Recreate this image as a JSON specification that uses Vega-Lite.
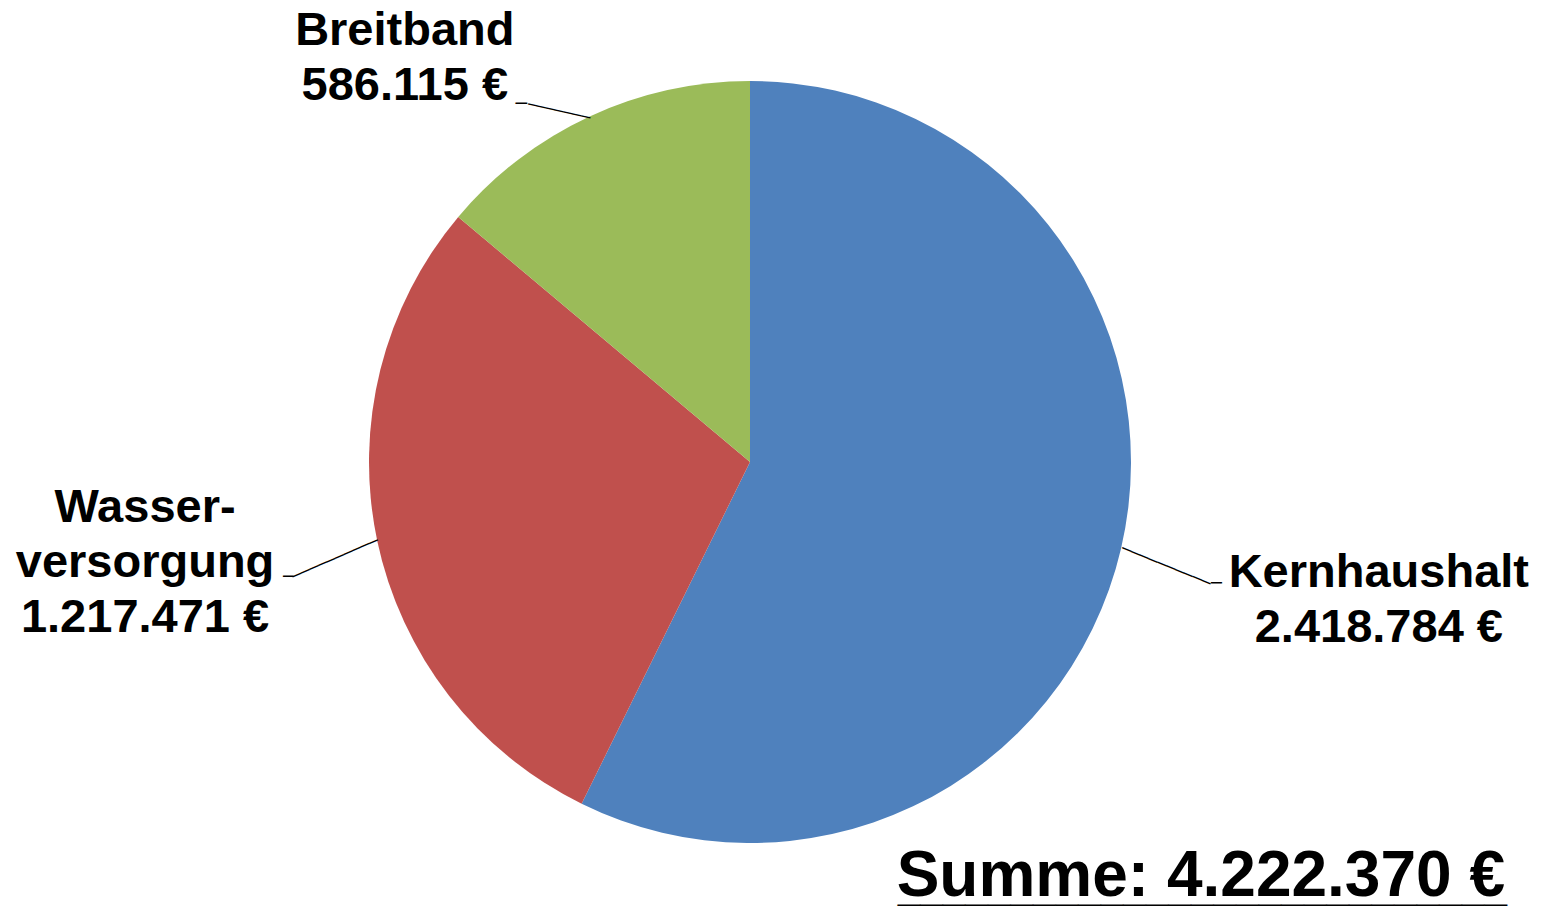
{
  "$schema": "https://vega.github.io/schema/vega-lite/v6.json",
  "width": 1500,
  "height": 890,
  "autosize": {"type": "none"},
  "padding": {"left": 0, "top": 17, "right": 47, "bottom": 0},
  "background": "white",
  "config": {
    "view": {"stroke": null},
    "locale": {"number": {"decimal": ",", "thousands": ".", "grouping": [3], "currency": ["", " €"]}}
  },
  "data": {
    "values": [
      {"category": "Kernhaushalt", "label": "Kernhaushalt", "value": 2418784},
      {"category": "Wasserversorgung", "label": "Wasser-\nversorgung", "value": 1217471},
      {"category": "Breitband", "label": "Breitband", "value": 586115}
    ]
  },
  "layer": [
    {
      "encoding": {
        "theta": {"field": "value", "type": "quantitative", "stack": true},
        "order": {"field": "value", "type": "quantitative", "sort": "descending"},
        "detail": {"field": "category", "type": "nominal"}
      },
      "layer": [
        {
          "mark": {"type": "arc", "radius": 381},
          "encoding": {
            "color": {
              "field": "category", "type": "nominal",
              "scale": {"domain": ["Kernhaushalt", "Wasserversorgung", "Breitband"], "range": ["#4F81BD", "#C0504D", "#9BBB59"]},
              "legend": null
            }
          }
        },
        {
          "mark": {"type": "text", "radius": 620, "dx": 25, "dy": -16, "align": "center", "baseline": "alphabetic", "font": "Liberation Sans", "fontWeight": "bold", "fontSize": 47, "lineBreak": "\n", "lineHeight": 55, "color": "black"},
          "encoding": {"text": {"condition": {"test": "datum.category === 'Kernhaushalt'", "field": "label"}, "value": ""}}
        },
        {
          "mark": {"type": "text", "radius": 620, "dx": 25, "dy": 39, "align": "center", "baseline": "alphabetic", "font": "Liberation Sans", "fontWeight": "bold", "fontSize": 47, "color": "black"},
          "encoding": {"text": {"condition": {"test": "datum.category === 'Kernhaushalt'", "field": "value", "type": "quantitative", "format": "$,.0f"}, "value": ""}}
        },
        {
          "mark": {"type": "text", "radius": 610, "dx": -8, "dy": -65.5, "align": "center", "baseline": "alphabetic", "font": "Liberation Sans", "fontWeight": "bold", "fontSize": 47, "lineBreak": "\n", "lineHeight": 55, "color": "black"},
          "encoding": {"text": {"condition": {"test": "datum.category === 'Wasserversorgung'", "field": "label"}, "value": ""}}
        },
        {
          "mark": {"type": "text", "radius": 610, "dx": -8, "dy": 44.5, "align": "center", "baseline": "alphabetic", "font": "Liberation Sans", "fontWeight": "bold", "fontSize": 47, "color": "black"},
          "encoding": {"text": {"condition": {"test": "datum.category === 'Wasserversorgung'", "field": "value", "type": "quantitative", "format": "$,.0f"}, "value": ""}}
        },
        {
          "mark": {"type": "text", "radius": 500, "dx": -134, "dy": 36, "align": "center", "baseline": "alphabetic", "font": "Liberation Sans", "fontWeight": "bold", "fontSize": 47, "lineBreak": "\n", "lineHeight": 55, "color": "black"},
          "encoding": {"text": {"condition": {"test": "datum.category === 'Breitband'", "field": "label"}, "value": ""}}
        },
        {
          "mark": {"type": "text", "radius": 500, "dx": -134, "dy": 91, "align": "center", "baseline": "alphabetic", "font": "Liberation Sans", "fontWeight": "bold", "fontSize": 47, "color": "black"},
          "encoding": {"text": {"condition": {"test": "datum.category === 'Breitband'", "field": "value", "type": "quantitative", "format": "$,.0f"}, "value": ""}}
        },
        {
          "mark": {"type": "text", "radius": 429, "angle": 22.2, "dx": 1, "dy": 7, "align": "center", "baseline": "middle", "font": "DejaVu Sans Mono", "fontSize": 15.8, "color": "black"},
          "encoding": {"text": {"condition": {"test": "datum.category === 'Kernhaushalt'", "value": "──────────"}, "value": ""}}
        },
        {
          "mark": {"type": "text", "radius": 482, "dx": -3, "dy": 13, "align": "center", "baseline": "middle", "font": "DejaVu Sans Mono", "fontSize": 18, "color": "black"},
          "encoding": {"text": {"condition": {"test": "datum.category === 'Kernhaushalt'", "value": "─"}, "value": ""}}
        },
        {
          "mark": {"type": "text", "radius": 425.5, "angle": -23.5, "dx": -2, "dy": 9, "align": "center", "baseline": "middle", "font": "DejaVu Sans Mono", "fontSize": 15.4, "color": "black"},
          "encoding": {"text": {"condition": {"test": "datum.category === 'Wasserversorgung'", "value": "──────────"}, "value": ""}}
        },
        {
          "mark": {"type": "text", "radius": 476, "dx": 4, "dy": 17, "align": "center", "baseline": "middle", "font": "DejaVu Sans Mono", "fontSize": 17, "color": "black"},
          "encoding": {"text": {"condition": {"test": "datum.category === 'Wasserversorgung'", "value": "─"}, "value": ""}}
        },
        {
          "mark": {"type": "text", "radius": 398.8, "angle": 12.7, "dx": -19.6, "dy": 15.2, "align": "center", "baseline": "middle", "font": "DejaVu Sans Mono", "fontSize": 15.1, "color": "black"},
          "encoding": {"text": {"condition": {"test": "datum.category === 'Breitband'", "value": "───────"}, "value": ""}}
        },
        {
          "mark": {"type": "text", "radius": 421, "dx": -51, "dy": 24, "align": "center", "baseline": "middle", "font": "DejaVu Sans Mono", "fontSize": 19, "color": "black"},
          "encoding": {"text": {"condition": {"test": "datum.category === 'Breitband'", "value": "─"}, "value": ""}}
        }
      ]
    },
    {
      "data": {"values": [{"summe": "Summe: 4.222.370 €", "underline": "___________________________"}]},
      "layer": [
        {
          "mark": {"type": "text", "align": "right", "baseline": "alphabetic", "dx": 5, "dy": -11, "font": "Liberation Sans", "fontWeight": "bold", "fontSize": 64, "color": "black"},
          "encoding": {"text": {"field": "summe"}, "x": {"value": "width"}, "y": {"value": "height"}}
        },
        {
          "mark": {"type": "text", "align": "right", "baseline": "alphabetic", "dx": 7, "dy": -6.5, "font": "Liberation Sans", "fontWeight": "bold", "fontSize": 40.6, "color": "black"},
          "encoding": {"text": {"field": "underline"}, "x": {"value": "width"}, "y": {"value": "height"}}
        }
      ]
    }
  ]
}
